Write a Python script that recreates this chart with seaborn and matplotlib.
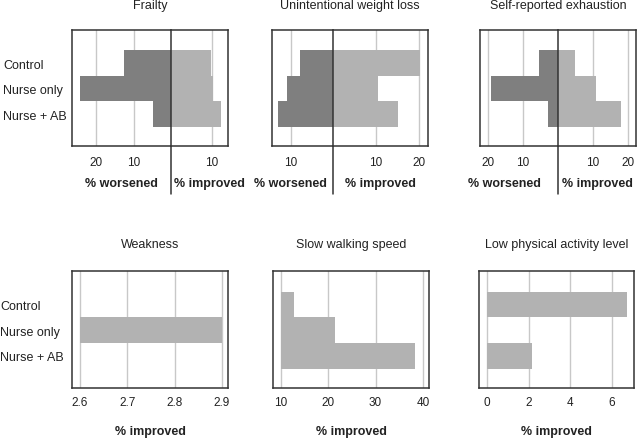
import numpy as np
import pandas as pd
import matplotlib.pyplot as plt
from matplotlib.lines import Line2D
import seaborn as sns

# --- Data ---
groups = ["Control", "Nurse only", "Nurse + AB"]

frailty_worse = [12.6, 24.4, 4.7]
frailty_better = [9.8, 10.3, 12.2]
weight_worse = [7.9, 11.0, 13.1]
weight_better = [20.2, 10.5, 15.1]
exhaust_worse = [5.4, 19.1, 2.9]
exhaust_better = [4.9, 10.9, 18.0]

weakness_better = [np.nan, 2.9, np.nan]
walking_better = [12.7, 21.4, 38.3]
activity_better = [6.73, np.nan, 2.16]

frailty_ticks = ([20, 10], [10])
weight_ticks = ([10], [10, 20])
exhaust_ticks = ([20, 10], [10, 20])
weakness_ticks = [2.6, 2.7, 2.8, 2.9]
walking_ticks = [10, 20, 30, 40]
activity_ticks = [0, 2, 4, 6]

# --- Styling ---
W, H = 637, 439
DARK = "#7f7f7f"
LIGHT = "#b2b2b2"
TEXT = "#222222"
SPINE = "#333333"

sns.set_theme(style="white")
plt.rcParams["font.family"] = ["Liberation Sans", "DejaVu Sans"]

fig = plt.figure(figsize=(W / 100, H / 100), dpi=100)


def px_box(x0, x1, y0, y1):
    """Pixel box (left, right, top, bottom) -> figure fraction rect."""
    return [x0 / W, 1 - y1 / H, (x1 - x0) / W, (y1 - y0) / H]


def draw_bars(ax, values, color, base=0):
    df = pd.DataFrame({"group": groups, "value": values})
    sns.barplot(data=df, x="value", y="group", order=groups, orient="h",
                color=color, width=1.0, saturation=1, linewidth=0, ax=ax)
    # bars start at the first tick, like the original
    if base:
        for p in ax.patches:
            w = p.get_width()
            p.set_x(base)
            p.set_width(w - base)


def style_axis(ax, xlim, ticks, spines, tick_pad):
    ax.set_xlim(*xlim)
    ax.set_ylim(3.25, -1.3)
    ax.set_xticks(ticks)
    ax.set_xticklabels([f"{t:g}" for t in ticks])
    ax.tick_params(axis="x", length=0, pad=tick_pad, labelsize=8.5, labelcolor=TEXT)
    ax.tick_params(axis="y", length=0)
    ax.set_yticks([])
    ax.set_ylabel("")
    ax.set_xlabel("")
    ax.grid(axis="x", color="#c8c8c8", linewidth=1)
    ax.grid(axis="y", visible=False)
    ax.set_axisbelow(True)
    for side, sp in ax.spines.items():
        sp.set_visible(side in spines)
        sp.set_color(SPINE)
        sp.set_linewidth(1.1)


def set_label(ax, text, x, y):
    ax.set_xlabel(text, fontsize=9, fontweight="bold", color=TEXT)
    ax.xaxis.set_label_coords(x, y)
    ax.xaxis.label.set_va("center")


def group_labels(ax, pad):
    ax.set_yticks(range(len(groups)))
    ax.set_yticklabels(groups, ha="left", fontsize=9, color=TEXT)
    ax.tick_params(axis="y", pad=pad)


# --- Top row: worsened / improved pairs ---
top = [
    ("Frailty", frailty_worse, frailty_better, frailty_ticks,
     (72, 171, 228), (26.5, 14.0), (0.5, 0.667)),
    ("Unintentional weight loss", weight_worse, weight_better, weight_ticks,
     (272, 333, 428), (14.5, 22.1), (0.31, 0.5)),
    ("Self-reported exhaustion", exhaust_worse, exhaust_better, exhaust_ticks,
     (480, 558, 636), (22.3, 22.3), (0.31, 0.5)),
]
for i, (title, worse, better, ticks, (xl, xc, xr), (lim_l, lim_r), (lab_l, lab_r)) in enumerate(top):
    ax_l = fig.add_axes(px_box(xl, xc, 31, 147))
    ax_r = fig.add_axes(px_box(xc, xr, 31, 147))
    draw_bars(ax_l, worse, DARK)
    draw_bars(ax_r, better, LIGHT)
    style_axis(ax_l, (lim_l, 0), ticks[0], ("left", "top", "bottom"), 7)
    style_axis(ax_r, (0, lim_r), ticks[1], ("right", "top", "bottom"), 7)
    set_label(ax_l, "% worsened", lab_l, -0.32)
    set_label(ax_r, "% improved", lab_r, -0.32)
    if i == 0:
        group_labels(ax_l, 49.5)
    fig.add_artist(Line2D([xc / W, xc / W], [1 - 31 / H, 1 - 195 / H],
                          color=SPINE, linewidth=1.1))
    fig.text((xl + xr) / 2 / W, 1 - 6 / H, title, ha="center", va="center",
             fontsize=9, color=TEXT)

# --- Bottom row: improved only ---
bottom = [
    ("Weakness", weakness_better, weakness_ticks, (72, 228), (2.583, 2.913)),
    ("Slow walking speed", walking_better, walking_ticks, (273, 429), (8.3, 41.3)),
    ("Low physical activity level", activity_better, activity_ticks, (479, 634), (-0.38, 7.06)),
]
for i, (title, better, ticks, (xl, xr), lim) in enumerate(bottom):
    ax = fig.add_axes(px_box(xl, xr, 272, 389))
    draw_bars(ax, better, LIGHT, base=ticks[0])
    style_axis(ax, lim, ticks, ("left", "right", "top", "bottom"), 6)
    set_label(ax, "% improved", 0.5, -0.37)
    if i == 0:
        group_labels(ax, 51.8)
    fig.text((xl + xr) / 2 / W, 1 - 245 / H, title, ha="center", va="center",
             fontsize=9, color=TEXT)

fig.savefig("out.png", dpi=100)
